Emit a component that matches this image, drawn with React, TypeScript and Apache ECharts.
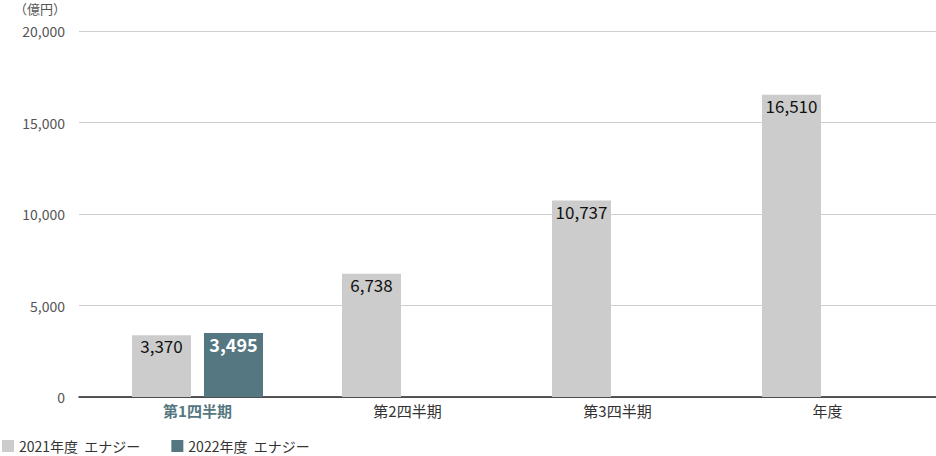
import * as echarts from 'echarts'
import { useEffect, useRef } from 'react'

// 売上高（億円）
const categories = ['第1四半期', '第2四半期', '第3四半期', '年度']
const fy2021 = [3370, 6738, 10737, 16510]
const fy2022: (number | string)[] = [3495, '-', '-', '-']
const yTicks = { min: 0, max: 20000, interval: 5000 }

const FONT = '"Noto Sans CJK JP", "Noto Sans", sans-serif'

const App = () => {
  const chartRef = useRef<HTMLDivElement | null>(null)
  useEffect(() => {
    if (!chartRef.current) return
    document.body.style.margin = '0'
    const myChart = echarts.init(chartRef.current, undefined, { renderer: 'svg' })
    const option: echarts.EChartsOption = {
      animation: false,
      textStyle: { fontFamily: FONT },
      graphic: [
        {
          type: 'text',
          left: 14,
          top: 2,
          style: { text: '（億円）', fontSize: 13, fill: '#555', fontFamily: FONT }
        }
      ],
      legend: {
        left: 2,
        bottom: 3,
        padding: 0,
        itemWidth: 12,
        itemHeight: 12,
        itemGap: 31,
        icon: 'rect',
        textStyle: { fontSize: 14, color: '#333', fontFamily: FONT },
        data: ['2021年度  エナジー', '2022年度  エナジー']
      },
      grid: [
        { left: 79, right: 0, top: 31, bottom: 59 },
        { left: 92.5, right: 3.5, top: 31, bottom: 59 }
      ],
      xAxis: [
        {
          type: 'category',
          gridIndex: 0,
          data: categories,
          axisLine: { lineStyle: { color: '#222', width: 1.5 } },
          axisTick: { show: false },
          axisLabel: { show: false }
        },
        {
          type: 'category',
          gridIndex: 1,
          data: categories,
          axisLine: { show: false },
          axisTick: { show: false },
          axisLabel: {
            margin: 6,
            fontSize: 15,
            color: '#333',
            fontFamily: FONT,
            formatter: (v: string, i: number) => (i === 0 ? `{a|${v}}` : v),
            rich: {
              a: { fontSize: 15, fontWeight: 'bold', color: '#557782', fontFamily: FONT }
            }
          }
        }
      ],
      yAxis: [
        {
          type: 'value',
          gridIndex: 0,
          ...yTicks,
          axisLine: { show: false },
          axisTick: { show: false },
          splitLine: { lineStyle: { color: '#cfcfcf' } },
          axisLabel: {
            margin: 14,
            fontSize: 14,
            color: '#555',
            fontFamily: FONT,
            formatter: (v: number) => v.toLocaleString('en-US')
          }
        },
        {
          type: 'value',
          gridIndex: 1,
          ...yTicks,
          show: false,
          splitLine: { show: false }
        }
      ],
      series: [
        {
          name: '2021年度  エナジー',
          type: 'bar',
          xAxisIndex: 1,
          yAxisIndex: 1,
          data: fy2021,
          barWidth: 59,
          barGap: '22%',
          itemStyle: { color: '#cccccc' },
          label: {
            show: true,
            position: 'insideTop',
            distance: 2,
            fontSize: 17,
            color: '#111',
            fontFamily: FONT,
            formatter: (p: any) => Number(p.value).toLocaleString('en-US')
          }
        },
        {
          name: '2022年度  エナジー',
          type: 'bar',
          xAxisIndex: 1,
          yAxisIndex: 1,
          data: fy2022,
          barWidth: 59,
          itemStyle: { color: '#557782' },
          label: {
            show: true,
            position: 'insideTop',
            distance: 2,
            fontSize: 18,
            fontWeight: 'bold',
            color: '#fff',
            fontFamily: FONT,
            formatter: (p: any) => Number(p.value).toLocaleString('en-US')
          }
        }
      ]
    }
    myChart.setOption(option)
    return () => {
      myChart.dispose()
    }
  }, [])
  return <div ref={chartRef} style={{ width: '936px', height: '456px' }}></div>
}

export default App
